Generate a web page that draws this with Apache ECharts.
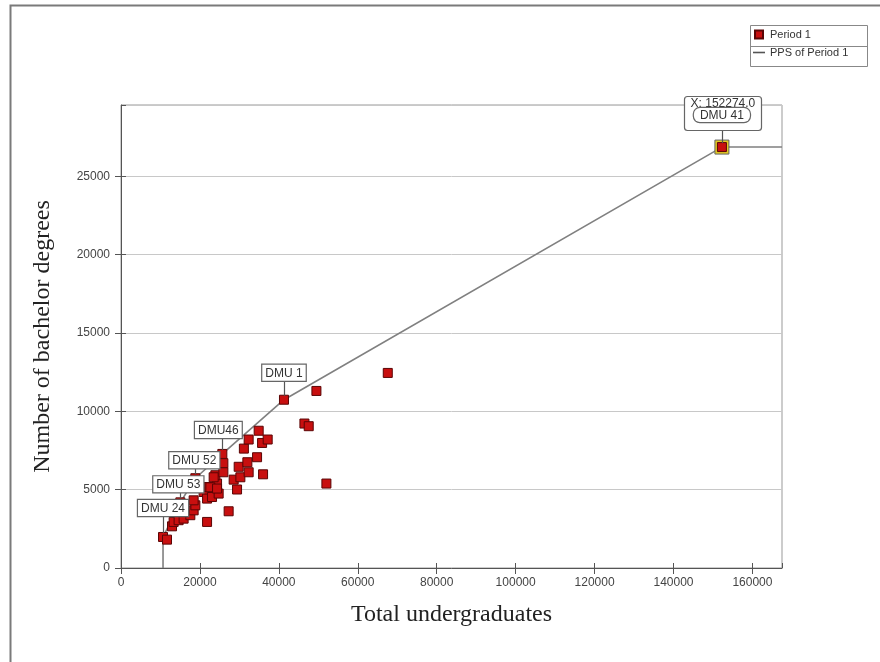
<!DOCTYPE html>
<html><head><meta charset="utf-8">
<script src="https://cdn.jsdelivr.net/npm/echarts@6/dist/echarts.min.js"></script>
<style>html,body{margin:0;padding:0;background:#fff}#c{width:880px;height:662px}</style>
</head><body><div id="c"></div>
<script>
// Period 1 DMUs: total undergraduates (x) vs number of bachelor degrees (y)
const dmuX = [10650, 11660, 12930, 13340, 14600, 15870, 17570, 18410, 18840, 18410,
  20940, 21810, 23070, 24750, 22210, 24340, 23910, 21810, 27280, 29410,
  28550, 30250, 32350, 36000, 29820, 32020, 34480, 31140, 32350, 35750,
  37170, 34890, 46480, 47570, 49520, 67600, 52050, 41300, 152274, 25680,
  25940, 25940, 23480, 22640, 24340, 18840, 15040];
const dmuY = [1980, 1810, 2660, 2940, 3050, 3150, 3370, 3680, 4000, 4320,
  4850, 4430, 4530, 4750, 5170, 5390, 5920, 2940, 3620, 5010,
  5640, 5790, 6110, 5980, 6460, 6750, 7070, 7620, 8200, 7980,
  8200, 8760, 9220, 9050, 11300, 12450, 5390, 10740, 26865, 7280,
  6690, 6110, 5790, 5150, 5070, 5730, 4190];
// Production possibility set frontier (PPS of Period 1)
const frontierX = [10650, 10650, 15040, 18840, 25680, 41300, 152274, 167500];
const frontierY = [0, 1980, 4190, 5730, 7280, 10740, 26865, 26865];
// Labelled DMUs
const labelNames = ['DMU 24', 'DMU 53', 'DMU 52', 'DMU46', 'DMU 1', 'DMU 41'];
const labelX = [10650, 15040, 18840, 25680, 41300, 152274];
const labelY = [1980, 4190, 5730, 7280, 10740, 26865];
// Axis settings
const xMin = 0, xMax = 167500, xStep = 20000;
const yMin = 0, yMax = 29550, yStep = 5000;
const seriesNames = ['Period 1', 'PPS of Period 1'];

const labelLayout = {
  'DMU 24': {dx: 0, gap: 21},
  'DMU 53': {dx: -2, gap: 10},
  'DMU 52': {dx: -1, gap: 10},
  'DMU46': {dx: -4, gap: 16},
  'DMU 1': {dx: 0, gap: 19},
  'DMU 41': {dx: 1, gap: 17}
};

const chart = echarts.init(document.getElementById('c'), null, {renderer: 'canvas'});
const tickFont = {fontFamily: 'Liberation Sans, Arial', fontSize: 12, color: '#444'};
const numFmt = v => String(v);

function axisPair(kind, min, max, step, name) {
  const isX = kind === 'x';
  const main = {
    type: 'value', min: min, max: max, interval: step,
    position: isX ? 'bottom' : 'left',
    name: name, nameLocation: 'middle', nameGap: isX ? 35 : 66,
    nameTextStyle: {fontFamily: 'Liberation Serif, Times New Roman', fontSize: 24, color: '#222'},
    axisLine: {show: true, onZero: false, lineStyle: {color: '#555', width: 1}},
    axisTick: {show: true, inside: false, length: 6, lineStyle: {color: '#555'}},
    axisLabel: Object.assign({margin: isX ? 9 : 11, formatter: numFmt, showMaxLabel: false}, tickFont),
    splitLine: {show: !isX, lineStyle: {color: '#c8c8c8', width: 1}}
  };
  const inner = {
    type: 'value', min: min, max: max, interval: step,
    position: isX ? 'bottom' : 'left',
    axisLine: {show: false, onZero: false},
    axisTick: {show: true, inside: true, length: 5, lineStyle: {color: '#555'}},
    axisLabel: {show: false},
    splitLine: {show: false}
  };
  return [main, inner];
}

const option = {
  backgroundColor: '#fff',
  animation: false,
  grid: {left: 121, right: 98, top: 105, bottom: 94, show: true, borderColor: '#999', borderWidth: 1, containLabel: false},
  xAxis: axisPair('x', xMin, xMax, xStep, 'Total undergraduates'),
  yAxis: axisPair('y', yMin, yMax, yStep, 'Number of bachelor degrees'),
  legend: {
    orient: 'vertical', left: 753, top: 29, padding: 0, itemGap: 7,
    itemWidth: 12, itemHeight: 8,
    textStyle: {fontFamily: 'Liberation Sans, Arial', fontSize: 11, color: '#333'},
    data: [
      {name: seriesNames[0], icon: 'path://M0,0L7,0L7,7L0,7Z'},
      {name: seriesNames[1], icon: 'path://M0,0L12,0L12,1.6L0,1.6Z', itemStyle: {color: '#555'}}
    ]
  },
  graphic: [
    {type: 'polyline', shape: {points: [[10.5, 662], [10.5, 5.5], [880, 5.5]]}, style: {stroke: '#7a7a7a', lineWidth: 2, fill: null}},
    {type: 'rect', shape: {x: 750.5, y: 25.5, width: 117, height: 41}, style: {fill: '#fff', stroke: '#888', lineWidth: 1}, z: -10},
    {type: 'line', shape: {x1: 750.5, y1: 46.5, x2: 867.5, y2: 46.5}, style: {stroke: '#888', lineWidth: 1}, z: -9}
  ],
  series: [
    {
      name: seriesNames[1], type: 'line', xAxisIndex: 0, yAxisIndex: 0,
      data: frontierX.map((x, i) => [x, frontierY[i]]),
      symbol: 'none', lineStyle: {color: '#808080', width: 1.6}, itemStyle: {color: '#808080'},
      z: 2, clip: false
    },
    {
      name: 'highlight', type: 'scatter', xAxisIndex: 0, yAxisIndex: 0,
      data: [[labelX[5], labelY[5]]], symbol: 'rect', symbolSize: 14,
      itemStyle: {color: '#e3cb22', borderColor: '#666', borderWidth: 1, opacity: 1}, z: 3, silent: true
    },
    {
      name: seriesNames[0], type: 'scatter', xAxisIndex: 0, yAxisIndex: 0,
      data: dmuX.map((x, i) => [x, dmuY[i]]), symbol: 'rect', symbolSize: 9,
      itemStyle: {color: '#c80f0f', borderColor: '#5a0505', borderWidth: 1, opacity: 1}, z: 4
    },
    {
      name: 'labels', type: 'custom', xAxisIndex: 0, yAxisIndex: 0, clip: false, z: 6,
      data: labelX.map((x, i) => [x, labelY[i]]),
      encode: {x: 0, y: 1},
      renderItem: function (params, api) {
        const p = api.coord([api.value(0), api.value(1)]);
        const nm = labelNames[params.dataIndex];
        const lay = labelLayout[nm];
        const cx = p[0], cy = p[1];
        const bx = cx + lay.dx;
        const bottom = cy - lay.gap;
        const font = '12px "Liberation Sans", Arial';
        const children = [
          {type: 'line', shape: {x1: Math.round(cx) + 0.5, y1: cy - 4, x2: Math.round(cx) + 0.5, y2: bottom}, style: {stroke: '#555', lineWidth: 1.2}}
        ];
        if (nm === 'DMU 41') {
          const w = 77, h = 34;
          children.push({type: 'rect', shape: {x: Math.round(bx - w / 2) + 0.5, y: Math.round(bottom - h) + 0.5, width: w, height: h, r: 3}, style: {fill: '#fff', stroke: '#666', lineWidth: 1.2}});
          children.push({type: 'text', style: {text: 'X: ' + api.value(0).toFixed(1), x: bx, y: bottom - h + 2, align: 'center', verticalAlign: 'top', font: font, fill: '#333'}});
          children.push({type: 'text', style: {text: nm, x: bx - 1, y: bottom - h + 12, align: 'center', verticalAlign: 'top', font: font, fill: '#333', backgroundColor: '#fff', borderColor: '#666', borderWidth: 1.2, borderRadius: 6, padding: [1, 6, 0, 6], lineHeight: 13}});
        } else {
          children.push({type: 'text', style: {text: nm, x: bx, y: bottom, align: 'center', verticalAlign: 'bottom', font: font, fill: '#333', backgroundColor: '#fff', borderColor: '#666', borderWidth: 1.2, padding: [2, 3, 1, 3], lineHeight: 13}});
        }
        return {type: 'group', children: children};
      }
    }
  ]
};
chart.setOption(option);
</script>
</body></html>
